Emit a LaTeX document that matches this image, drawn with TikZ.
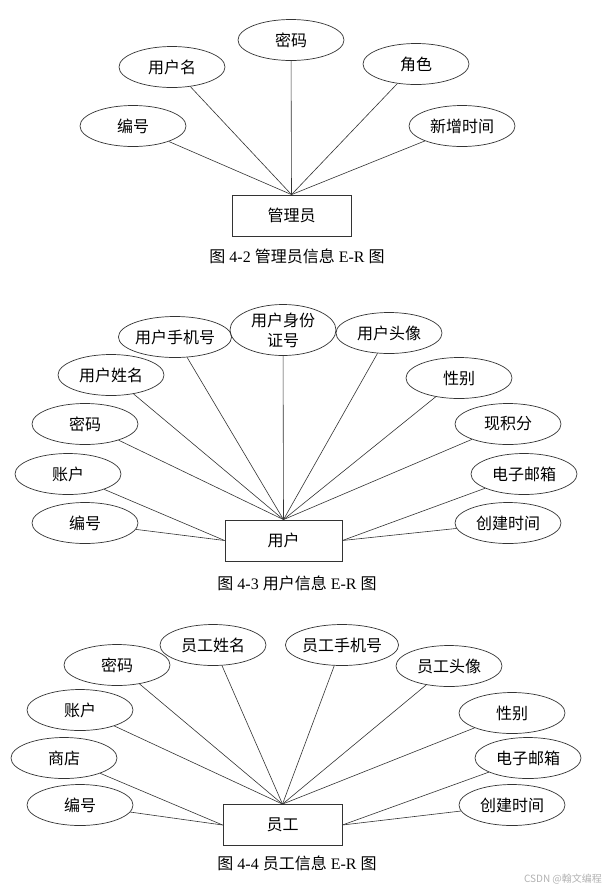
\documentclass[tikz,border=0pt]{standalone}
\usepackage{fontspec}
\setmainfont{Liberation Serif}
\newfontfamily\cjk{Noto Sans CJK SC}
\usetikzlibrary{shapes.geometric, positioning}

\begin{document}
\begin{tikzpicture}[
   x=1pt, y=-1pt,
   attr/.style={ellipse, draw=black!80, line width=0.7pt, inner sep=0pt,
                minimum width=106pt, minimum height=41pt, align=center,
                font=\cjk\fontsize{16}{20}\selectfont},
   ent/.style={rectangle, draw=black!80, line width=0.8pt, inner sep=0pt,
               minimum width=119pt, minimum height=41pt,
               font=\cjk\fontsize{16}{20}\selectfont},
   figcap/.style={font=\fontsize{16}{19}\selectfont, inner sep=0pt},
   link/.style={draw=black!80, line width=0.6pt},
]
\useasboundingbox[fill=white] (0,0) rectangle (615,892);

% ---- admin ----
\node[ent] (admin) at (291.5,215.5) {管理员};
\node[attr] (a_pwd)  at (291,40)  {密码};
\node[attr] (a_name) at (172,67)  {用户名};
\node[attr] (a_role) at (416,64)  {角色};
\node[attr] (a_id)   at (133,126) {编号};
\node[attr] (a_time) at (462,126) {新增时间};
\node[figcap] (cap2) at (297,256)
   {{\cjk 图} 4-2 {\cjk 管理员信息} E-R {\cjk 图}};

\draw[link] (a_pwd)  -- (admin.north);
\draw[link] (a_name) -- (admin.north);
\draw[link] (a_role) -- (admin.north);
\draw[link] (a_id)   -- (admin.north);
\draw[link] (a_time) -- (admin.north);

% ---- user ----
\node[ent, minimum width=117pt] (user) at (283.5,540.5) {用户};
\node[attr, minimum height=51pt] (u_card) at (283,330) {用户身份\\证号};
\node[attr] (u_phone) at (175,337) {用户手机号};
\node[attr] (u_head)  at (389,333) {用户头像};
\node[attr] (u_name)  at (111,375) {用户姓名};
\node[attr] (u_sex)   at (459,378) {性别};
\node[attr] (u_pwd)   at (85,424)  {密码};
\node[attr] (u_score) at (508,424) {现积分};
\node[attr] (u_acc)   at (68,474)  {账户};
\node[attr] (u_mail)  at (524,474) {电子邮箱};
\node[attr] (u_id)    at (85,523)  {编号};
\node[attr] (u_time)  at (508,523) {创建时间};
\node[figcap] (cap3) at (297,583)
   {{\cjk 图} 4-3 {\cjk 用户信息} E-R {\cjk 图}};

\draw[link] (u_card)  -- (user.north);
\draw[link] (u_phone) -- (user.north);
\draw[link] (u_head)  -- (user.north);
\draw[link] (u_name)  -- (user.north);
\draw[link] (u_sex)   -- (user.north);
\draw[link] (u_pwd)   -- (user.north);
\draw[link] (u_score) -- (user.north);
\draw[link] (u_acc)   -- (user.west);
\draw[link] (u_id)    -- (user.west);
\draw[link] (u_mail)  -- (user.east);
\draw[link] (u_time)  -- (user.east);

% ---- staff ----
\node[ent] (staff) at (282.5,825) {员工};
\node[attr] (s_name)  at (213,645) {员工姓名};
\node[attr] (s_phone) at (342,645) {员工手机号};
\node[attr] (s_pwd)   at (117,665) {密码};
\node[attr] (s_head)  at (449,666) {员工头像};
\node[attr] (s_acc)   at (80,710)  {账户};
\node[attr] (s_sex)   at (512,713) {性别};
\node[attr] (s_shop)  at (64,758)  {商店};
\node[attr] (s_mail)  at (528,758) {电子邮箱};
\node[attr] (s_id)    at (80,805)  {编号};
\node[attr] (s_time)  at (512,805) {创建时间};
\node[figcap] (cap4) at (297,863)
   {{\cjk 图} 4-4 {\cjk 员工信息} E-R {\cjk 图}};

\draw[link] (s_name)  -- (staff.north);
\draw[link] (s_phone) -- (staff.north);
\draw[link] (s_pwd)   -- (staff.north);
\draw[link] (s_head)  -- (staff.north);
\draw[link] (s_acc)   -- (staff.north);
\draw[link] (s_sex)   -- (staff.north);
\draw[link] (s_shop)  -- (staff.west);
\draw[link] (s_id)    -- (staff.west);
\draw[link] (s_mail)  -- (staff.east);
\draw[link] (s_time)  -- (staff.east);

% ---- watermark ----
\node[text=black!30, font=\cjk\fontsize{10}{12}\selectfont, inner sep=0pt]
   (mark) at (563,879) {CSDN @翰文编程};
\end{tikzpicture}
\end{document}
